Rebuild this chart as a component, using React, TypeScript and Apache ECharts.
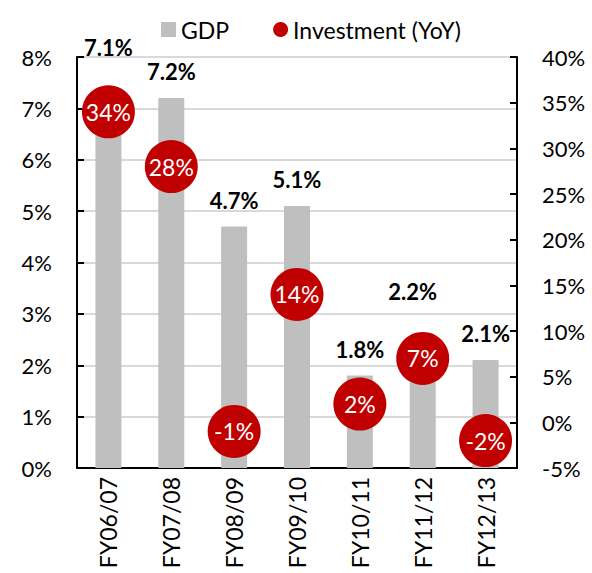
import React, { useEffect, useRef } from "react";
import * as echarts from "echarts";

const categories = ["FY06/07", "FY07/08", "FY08/09", "FY09/10", "FY10/11", "FY11/12", "FY12/13"];
const gdp = [7.1, 7.2, 4.7, 5.1, 1.8, 2.2, 2.1];
const investment = [34, 28, -1, 14, 2, 7, -2];
const gdpLabelDistance = [45, 16, 15, 15, 15, 52, 16];
const gdpLabelOffsetX = [0, 0, 0, 0, 0, -10, 0];

const FONT = "Lato, 'Open Sans', sans-serif";

export default function App() {
  const ref = useRef<HTMLDivElement>(null);
  useEffect(() => {
    if (!ref.current) return;
    const chart = echarts.init(ref.current, undefined, { renderer: "svg" });
    chart.setOption({
      animation: false,
      textStyle: { fontFamily: FONT },
      legend: {
        top: 13,
        left: 156,
        itemGap: 44,
        itemWidth: 15,
        itemHeight: 15,
        itemStyle: { borderWidth: 0 },
        textStyle: { fontSize: 23, color: "#000", fontFamily: FONT },
        data: [
          { name: "GDP", icon: "rect" },
          { name: "Investment (YoY)", icon: "circle" },
        ],
      },
      grid: { left: 77, right: 75, top: 57, bottom: 105, outerBoundsMode: "none", containLabel: false },
      xAxis: {
        type: "category",
        data: categories,
        axisLine: { lineStyle: { color: "#000", width: 2 } },
        axisTick: { inside: true, length: 7, lineStyle: { color: "#000", width: 2 } },
        axisLabel: { rotate: 90, fontSize: 23, color: "#000", margin: 9, fontFamily: FONT },
      },
      yAxis: [
        {
          type: "value",
          min: 0,
          max: 8,
          interval: 1,
          axisLine: { show: true, lineStyle: { color: "#000", width: 2 } },
          axisTick: { show: true, inside: true, length: 7, lineStyle: { color: "#000", width: 2 } },
          splitLine: { lineStyle: { color: "#d9d9d9", width: 2 } },
          axisLabel: { formatter: "{value}%", fontSize: 22, color: "#000", margin: 25, fontFamily: FONT },
        },
        {
          type: "value",
          min: -5,
          max: 40,
          interval: 5,
          axisLine: { show: true, lineStyle: { color: "#000", width: 2 } },
          axisTick: { show: true, inside: true, length: 7, lineStyle: { color: "#000", width: 2 } },
          splitLine: { show: false },
          axisLabel: { formatter: "{value}%", fontSize: 22, color: "#000", margin: 25, fontFamily: FONT },
        },
      ],
      series: [
        {
          name: "GDP",
          type: "bar",
          barWidth: 26,
          itemStyle: { color: "#bfbfbf" },
          data: gdp.map((v, i) => ({
            value: v,
            label: {
              show: true,
              position: "top",
              distance: gdpLabelDistance[i],
              offset: [gdpLabelOffsetX[i], 0],
              formatter: (p: any) => p.value.toFixed(1) + "%",
              fontSize: 22,
              fontWeight: "bold",
              color: "#000",
              fontFamily: FONT,
            },
          })),
        },
        {
          name: "Investment (YoY)",
          type: "scatter",
          yAxisIndex: 1,
          symbol: "circle",
          symbolSize: 53,
          itemStyle: { color: "#c00000", opacity: 1 },
          label: {
            show: true,
            position: "inside",
            formatter: (p: any) => p.value + "%",
            fontSize: 23,
            color: "#fff",
            fontFamily: FONT,
          },
          data: investment,
          z: 5,
        },
      ],
    });
    return () => chart.dispose();
  }, []);
  return (
    <div
      ref={ref}
      style={{ position: "absolute", left: 0, top: 0, width: 592, height: 573, overflow: "hidden" }}
    />
  );
}
